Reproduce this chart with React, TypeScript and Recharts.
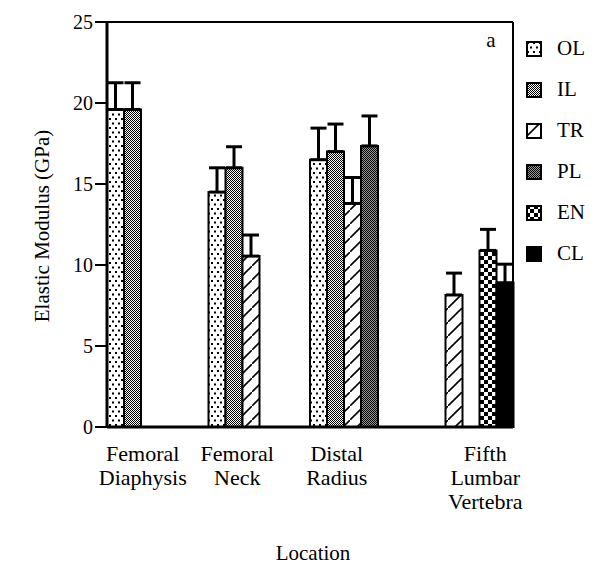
import { BarChart, Bar, XAxis, YAxis, ErrorBar, CartesianGrid } from "recharts";

const categories = ["Femoral Diaphysis", "Femoral Neck", "Distal Radius", "Fifth Lumbar Vertebra"];
const seriesNames = ["OL", "IL", "TR", "PL", "EN", "CL"];

const olValues = [19.6, 14.5, 16.5, null];
const olErrors = [1.65, 1.5, 1.95, null];
const ilValues = [19.6, 16.0, 17.0, null];
const ilErrors = [1.65, 1.3, 1.7, null];
const trValues = [null, 10.55, 13.8, 8.15];
const trErrors = [null, 1.3, 1.6, 1.35];
const plValues = [null, null, 17.35, null];
const plErrors = [null, null, 1.85, null];
const enValues = [null, null, null, 10.9];
const enErrors = [null, null, null, 1.3];
const clValues = [null, null, null, 8.9];
const clErrors = [null, null, null, 1.15];

const yTicks = [0, 5, 10, 15, 20, 25];

const valuesBySeries = [olValues, ilValues, trValues, plValues, enValues, clValues];
const errorsBySeries = [olErrors, ilErrors, trErrors, plErrors, enErrors, clErrors];

const data = categories.map((name, i) => {
  const row: Record<string, any> = { name };
  seriesNames.forEach((s, k) => {
    row[s] = valuesBySeries[k][i];
    const e = errorsBySeries[k][i];
    row[s + "_err"] = e == null ? null : [0, e];
  });
  return row;
});

const FONT = "Liberation Serif, Times New Roman, serif";
const fills: Record<string, string> = {
  OL: "url(#pat-ol)",
  IL: "url(#pat-il)",
  TR: "url(#pat-tr)",
  PL: "url(#pat-pl)",
  EN: "url(#pat-en)",
  CL: "#000",
};
// the category labels in the figure are not centred on their bands
const labelShift = [-15, -22, -24, 23];

function Patterns() {
  return (
    <svg width={0} height={0} style={{ position: "absolute" }}>
      <defs>
        <pattern id="pat-ol" patternUnits="userSpaceOnUse" width={6} height={9}>
          <rect width={6} height={9} fill="#fff" />
          <rect x={1} y={1} width={2} height={2} fill="#000" />
          <rect x={4} y={5.5} width={2} height={2} fill="#000" />
        </pattern>
        <pattern id="pat-il" patternUnits="userSpaceOnUse" width={2} height={2}>
          <rect width={2} height={2} fill="#fff" />
          <rect x={0} y={0} width={1} height={1} fill="#000" />
          <rect x={1} y={1} width={1} height={1} fill="#000" />
        </pattern>
        <pattern id="pat-tr" patternUnits="userSpaceOnUse" width={14} height={14}>
          <rect width={14} height={14} fill="#fff" />
          <path d="M0,14 L14,0" stroke="#000" strokeWidth={1.6} />
        </pattern>
        <pattern id="pat-pl" patternUnits="userSpaceOnUse" width={2} height={2}>
          <rect width={2} height={2} fill="#9a9a9a" />
          <rect x={0} y={0} width={1} height={1} fill="#000" />
          <rect x={1} y={1} width={1} height={1} fill="#000" />
        </pattern>
        <pattern id="pat-en" patternUnits="userSpaceOnUse" width={8} height={8}>
          <rect width={8} height={8} fill="#fff" />
          <rect x={0} y={0} width={4} height={4} fill="#000" />
          <rect x={4} y={4} width={4} height={4} fill="#000" />
        </pattern>
      </defs>
    </svg>
  );
}

function CategoryTick(props: any) {
  const { x, y, payload, index } = props;
  const words = String(payload.value).split(" ");
  return (
    <text
      x={x + labelShift[index]}
      y={y}
      textAnchor="middle"
      fontFamily={FONT}
      fontSize={22}
      fill="#000"
    >
      {words.map((w, i) => (
        <tspan key={i} x={x + labelShift[index]} dy={i === 0 ? 26 : 24}>
          {w}
        </tspan>
      ))}
    </text>
  );
}

function LegendBox() {
  return (
    <div
      style={{
        position: "absolute",
        left: 526,
        top: 28,
        fontFamily: FONT,
        fontSize: 21,
        color: "#000",
      }}
    >
      {seriesNames.map((s) => (
        <div key={s} style={{ display: "flex", alignItems: "center", height: 41 }}>
          <svg width={16} height={16} style={{ marginRight: 15 }}>
            <rect x={1} y={1} width={14} height={14} fill={fills[s]} stroke="#000" strokeWidth={2} />
          </svg>
          <span>{s}</span>
        </div>
      ))}
    </div>
  );
}

export default function App() {
  return (
    <div style={{ position: "absolute", left: 0, top: 0, width: 603, height: 565, background: "#fff" }}>
      <Patterns />
      <BarChart
        width={603}
        height={565}
        data={data}
        margin={{ top: 22, right: 90, bottom: 48, left: 47 }}
        barCategoryGap={0}
        barGap={0}
      >
        <CartesianGrid
          stroke="#000"
          strokeWidth={2}
          horizontalCoordinatesGenerator={({ offset }: any) => [offset.top]}
          verticalCoordinatesGenerator={({ offset }: any) => [offset.left + offset.width]}
        />
        <XAxis
          dataKey="name"
          height={90}
          tickLine={false}
          axisLine={{ stroke: "#000", strokeWidth: 3 }}
          tick={<CategoryTick />}
          interval={0}
        />
        <YAxis
          domain={[0, 25]}
          ticks={yTicks}
          width={60}
          tickSize={12}
          tickLine={{ stroke: "#000", strokeWidth: 2 }}
          axisLine={{ stroke: "#000", strokeWidth: 3 }}
          tick={{ fill: "#000", fontSize: 20, fontFamily: FONT }}
        />
        {seriesNames.map((s) => (
          <Bar
            key={s}
            dataKey={s}
            name={s}
            fill={fills[s]}
            stroke="#000"
            strokeWidth={2}
            isAnimationActive={false}
          >
            <ErrorBar dataKey={s + "_err"} direction="y" width={8} stroke="#000" strokeWidth={3} />
          </Bar>
        ))}
        <text x={491} y={47} textAnchor="middle" fontFamily={FONT} fontSize={21} fill="#000">
          a
        </text>
        <text
          x={49}
          y={226}
          transform="rotate(-90, 49, 226)"
          textAnchor="middle"
          fontFamily={FONT}
          fontSize={21}
          fill="#000"
        >
          Elastic Modulus (GPa)
        </text>
        <text x={313} y={560} textAnchor="middle" fontFamily={FONT} fontSize={21} fill="#000">
          Location
        </text>
      </BarChart>
      <LegendBox />
    </div>
  );
}
